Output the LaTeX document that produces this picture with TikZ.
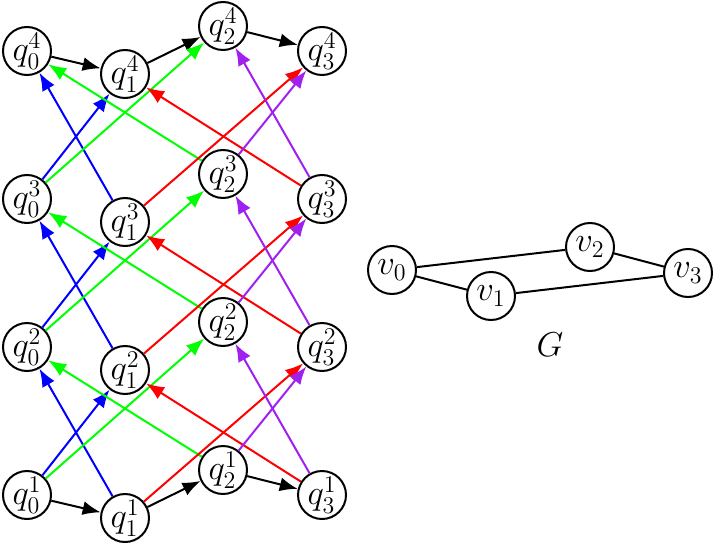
\documentclass[tikz,border=0pt]{standalone}
\usepackage{tikz}
\usetikzlibrary{arrows.meta}
\definecolor{vpurple}{RGB}{160,32,240}
\tikzstyle{arrow} = [line width=1pt,-{Latex[length=9pt,width=7pt]}]
\tikzstyle{qstate} = [circle, minimum size=24pt, inner sep=0pt, line width=1pt, draw=black, font=\fontsize{18.5}{20}\selectfont]

\begin{document}
\begin{tikzpicture}[x=0.5pt,y=-0.5pt]
    \useasboundingbox (0,0) rectangle (715,545);
    % layers of the product graph
   	\node[qstate](q04) at (27,51) {$q_0^4$};
   	\node[qstate](q14) at (125,74) {$q_1^4$};
   	\node[qstate](q24) at (223,26) {$q_2^4$};
   	\node[qstate](q34) at (322,51) {$q_3^4$};
   	\node[qstate](q03) at (27,199) {$q_0^3$};
   	\node[qstate](q13) at (125,222) {$q_1^3$};
   	\node[qstate](q23) at (223,174) {$q_2^3$};
   	\node[qstate](q33) at (322,199) {$q_3^3$};
   	\node[qstate](q02) at (27,347) {$q_0^2$};
   	\node[qstate](q12) at (125,370) {$q_1^2$};
   	\node[qstate](q22) at (223,322) {$q_2^2$};
   	\node[qstate](q32) at (322,347) {$q_3^2$};
   	\node[qstate](q01) at (27,495) {$q_0^1$};
   	\node[qstate](q11) at (125,518) {$q_1^1$};
   	\node[qstate](q21) at (223,470) {$q_2^1$};
   	\node[qstate](q31) at (322,495) {$q_3^1$};
    % the graph G
   	\node[qstate](v0) at (392,270) {$v_0$};
   	\node[qstate](v1) at (491,296) {$v_1$};
   	\node[qstate](v2) at (590,247) {$v_2$};
   	\node[qstate](v3) at (688,273) {$v_3$};
    \node(glabel) at (550,345) {\fontsize{17.5}{19}\selectfont $G$};
    \path[line width=1pt]
    (v0) edge (v1)
    (v0) edge (v2)
    (v1) edge (v3)
    (v2) edge (v3);
    \path[arrow]
    (q01) edge (q11)
    (q11) edge (q21)
    (q21) edge (q31)
    (q04) edge (q14)
    (q14) edge (q24)
    (q24) edge (q34);
    \path[arrow,blue]
    (q11) edge (q02) (q01) edge (q12)
    (q12) edge (q03) (q02) edge (q13)
    (q13) edge (q04) (q03) edge (q14);
    \path[arrow,green]
    (q21) edge (q02) (q01) edge (q22)
    (q22) edge (q03) (q02) edge (q23)
    (q23) edge (q04) (q03) edge (q24);
    \path[arrow,red]
    (q31) edge (q12) (q11) edge (q32)
    (q32) edge (q13) (q12) edge (q33)
    (q33) edge (q14) (q13) edge (q34);
    \path[arrow,vpurple]
    (q31) edge (q22) (q21) edge (q32)
    (q32) edge (q23) (q22) edge (q33)
    (q33) edge (q24) (q23) edge (q34);
\end{tikzpicture}
\end{document}
